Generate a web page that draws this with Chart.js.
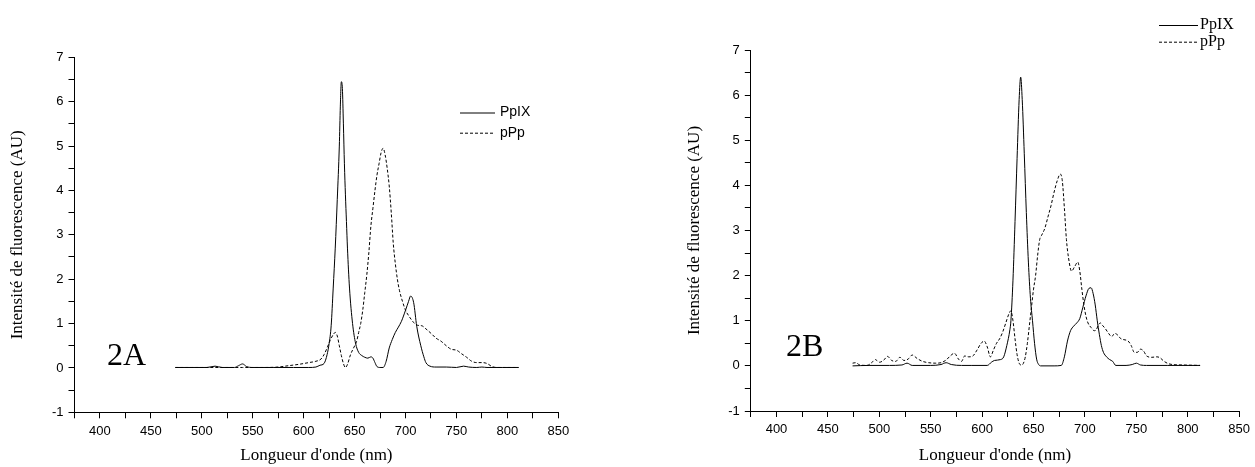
<!DOCTYPE html>
<html>
<head>
<meta charset="utf-8">
<script src="https://cdn.jsdelivr.net/npm/chart.js@4.4.1/dist/chart.umd.min.js"></script>
<style>
  body { margin: 0; background: #fff; }
  #wrap { position: relative; width: 1255px; height: 467px; }
  canvas { position: absolute; top: 0; }
</style>
</head>
<body>
<div id="wrap">
  <canvas id="chartA" width="620" height="467" style="left:0px;width:620px;height:467px"></canvas>
  <canvas id="chartB" width="635" height="467" style="left:620px;width:635px;height:467px"></canvas>
</div>
<script>
// ---- data ----
const seriesNames = ['PpIX', 'pPp'];
const panelNames = ['2A', '2B'];
const xTickValues = [400, 450, 500, 550, 600, 650, 700, 750, 800, 850];
const yTickValues = [-1, 0, 1, 2, 3, 4, 5, 6, 7];

// panel 2A, PpIX
const nmA_ppix = [474, 490, 505, 513, 520, 532, 536, 540, 544, 550, 570, 590, 605, 612, 616, 620, 623, 625, 627, 629, 631, 633, 635, 636, 637, 638, 639, 640, 641, 642, 643, 645, 648, 651, 654, 657, 660, 663, 666, 668, 670, 672, 675, 678, 681, 684, 687, 690, 693, 696, 700, 703, 705, 708, 711, 715, 718, 720, 724, 730, 740, 750, 757, 762, 770, 775, 780, 795, 811];
const valA_ppix = [0.01, 0.01, 0.01, 0.04, 0.01, 0.01, 0.05, 0.09, 0.03, 0.01, 0.01, 0.01, 0.01, 0.02, 0.06, 0.1, 0.3, 0.55, 0.95, 1.8, 2.7, 3.8, 5.0, 5.9, 6.45, 6.3, 5.5, 4.6, 3.9, 3.3, 2.7, 1.8, 1.0, 0.55, 0.35, 0.28, 0.24, 0.22, 0.25, 0.22, 0.12, 0.03, 0.01, 0.01, 0.15, 0.45, 0.64, 0.8, 0.92, 1.05, 1.3, 1.5, 1.62, 1.47, 0.94, 0.5, 0.25, 0.12, 0.04, 0.02, 0.02, 0.01, 0.04, 0.02, 0.01, 0.02, 0.01, 0.01, 0.01];

// panel 2A, pPp
const nmA_ppp = [474, 500, 540, 560, 575, 585, 595, 605, 612, 617, 620, 623, 626, 629, 631, 633, 635, 637, 639, 641, 643, 646, 649, 652, 654, 656, 658, 660, 662, 664, 666, 668, 670, 672, 674, 676, 678, 680, 682, 684, 686, 688, 690, 692, 694, 697, 700, 703, 706, 709, 712, 716, 720, 725, 730, 735, 740, 745, 750, 755, 760, 765, 770, 775, 780, 785, 790, 811];
const valA_ppp = [0.01, 0.01, 0.01, 0.01, 0.02, 0.05, 0.08, 0.12, 0.15, 0.2, 0.3, 0.45, 0.62, 0.75, 0.8, 0.72, 0.5, 0.28, 0.1, 0.01, 0.08, 0.3, 0.45, 0.6, 0.8, 1.0, 1.3, 1.7, 2.1, 2.6, 3.2, 3.6, 4.0, 4.35, 4.6, 4.85, 4.95, 4.8, 4.5, 4.1, 3.5, 2.8, 2.35, 2.0, 1.75, 1.5, 1.3, 1.18, 1.08, 1.0, 0.96, 0.95, 0.88, 0.78, 0.67, 0.6, 0.5, 0.42, 0.4, 0.32, 0.24, 0.15, 0.12, 0.12, 0.1, 0.03, 0.01, 0.01];

// panel 2B, PpIX
const nmB_ppix = [474, 490, 510, 522, 527, 532, 550, 560, 565, 570, 580, 590, 605, 609, 612, 618, 621, 624, 627, 628, 630, 632, 634, 636, 637.5, 639, 641, 643, 645, 647, 649, 651, 653, 655, 657, 670, 677, 680, 683, 686, 689, 692, 695, 698, 701, 704, 706, 708, 710, 712, 714, 716, 718, 721, 724, 727, 730, 740, 746, 750, 754, 760, 780, 812];
const valB_ppix = [0.0, 0.01, 0.01, 0.02, 0.06, 0.01, 0.01, 0.03, 0.07, 0.03, 0.01, 0.01, 0.01, 0.08, 0.12, 0.14, 0.2, 0.45, 0.8, 1.0, 1.9, 3.2, 4.6, 5.9, 6.4, 5.9, 4.7, 3.4, 2.3, 1.5, 1.0, 0.5, 0.15, 0.03, 0.0, 0.0, 0.01, 0.2, 0.55, 0.78, 0.88, 0.95, 1.05, 1.3, 1.55, 1.72, 1.73, 1.6, 1.35, 1.0, 0.7, 0.45, 0.3, 0.2, 0.14, 0.1, 0.01, 0.01, 0.03, 0.06, 0.02, 0.01, 0.01, 0.01];

// panel 2B, pPp
const nmB_ppp = [474, 477, 481, 488, 493, 496, 500, 504, 508, 512, 516, 520, 524, 528, 532, 537, 542, 548, 555, 560, 565, 569, 573, 577, 580, 583, 587, 591, 595, 599, 602, 605, 608, 611, 614, 617, 620, 623, 626, 628, 630, 632, 634, 636, 638, 640, 642, 644, 646, 648, 650, 652, 654, 656, 658, 661, 664, 667, 670, 673, 676, 678, 680, 682, 684, 687, 690, 693, 695, 697, 699, 701, 703, 706, 709, 711, 713, 715, 717, 720, 723, 726, 729, 732, 735, 738, 742, 745, 748, 751, 754, 757, 760, 765, 770, 773, 777, 781, 785, 795, 812];
const valB_ppp = [0.06, 0.07, 0.02, 0.01, 0.08, 0.14, 0.08, 0.12, 0.21, 0.12, 0.1, 0.19, 0.12, 0.15, 0.24, 0.16, 0.1, 0.07, 0.06, 0.07, 0.13, 0.22, 0.28, 0.15, 0.1, 0.22, 0.2, 0.22, 0.35, 0.5, 0.55, 0.42, 0.2, 0.35, 0.5, 0.6, 0.75, 0.95, 1.15, 1.22, 1.0, 0.6, 0.25, 0.06, 0.02, 0.05, 0.2, 0.5, 0.9, 1.3, 1.7, 2.0, 2.45, 2.8, 2.9, 3.05, 3.3, 3.55, 3.85, 4.1, 4.25, 4.1, 3.5, 2.8, 2.4, 2.1, 2.2, 2.3, 2.1, 1.7, 1.35, 1.1, 0.95, 0.85, 0.78, 0.8, 0.9, 0.95, 0.9, 0.82, 0.72, 0.65, 0.72, 0.68, 0.6, 0.58, 0.55, 0.45, 0.3, 0.3, 0.37, 0.33, 0.22, 0.19, 0.2, 0.18, 0.1, 0.05, 0.03, 0.02, 0.01];

const xTitle = "Longueur d'onde (nm)";
const yTitle = 'Intensité de fluorescence (AU)';

// build {x,y} points
function toPoints(xs, ys) {
    return xs.map((x, i) => ({ x: x, y: ys[i] }));
}

// legend drawn inside the canvas at a given spot
const inlineLegend = {
    id: 'inlineLegend',
    afterDraw(chart, args, opts) {
        const ctx = chart.ctx;
        ctx.save();
        ctx.font = opts.font;
        ctx.textBaseline = 'middle';
        ctx.fillStyle = '#000';
        chart.data.datasets.forEach((ds, i) => {
            const y = opts.y + i * opts.rowH;
            ctx.beginPath();
            ctx.setLineDash(ds.borderDash || []);
            ctx.lineWidth = 1;
            ctx.strokeStyle = ds.borderColor;
            ctx.moveTo(opts.x, y + 0.5);
            ctx.lineTo(opts.x + opts.lineLen, y + 0.5);
            ctx.stroke();
            ctx.setLineDash([]);
            ctx.fillText(ds.label, opts.x + opts.lineLen + opts.gap, y);
        });
        ctx.restore();
    }
};

// big "2A" / "2B" tag
const panelTag = {
    id: 'panelTag',
    afterDraw(chart, args, opts) {
        const ctx = chart.ctx;
        ctx.save();
        ctx.font = opts.font;
        ctx.fillStyle = '#000';
        ctx.textBaseline = 'alphabetic';
        ctx.fillText(opts.text, opts.x, opts.y);
        ctx.restore();
    }
};

function makeChart(canvasId, panel, setup) {
    const ctx = document.getElementById(canvasId).getContext('2d');
    return new Chart(ctx, {
        type: 'line',
        data: {
            datasets: [{
                label: seriesNames[0],
                data: toPoints(setup.ppixX, setup.ppixY),
                borderColor: '#000',
                borderWidth: 1,
                pointRadius: 0,
                cubicInterpolationMode: 'monotone',
                fill: false
            }, {
                label: seriesNames[1],
                data: toPoints(setup.pppX, setup.pppY),
                borderColor: '#000',
                borderWidth: 1,
                borderDash: [3, 2],
                pointRadius: 0,
                cubicInterpolationMode: 'monotone',
                fill: false
            }]
        },
        options: {
            responsive: false,
            animation: false,
            events: [],
            layout: { padding: setup.padding },
            plugins: {
                legend: { display: false },
                tooltip: { enabled: false },
                inlineLegend: setup.legend,
                panelTag: { text: panel, x: setup.tag.x, y: setup.tag.y, font: '32px "Liberation Serif"' }
            },
            scales: {
                x: {
                    type: 'linear',
                    min: 375,
                    max: 850,
                    afterFit: s => { s.height = setup.xAxisH; },
                    border: { display: true, color: '#000', width: 1 },
                    grid: { drawOnChartArea: false, drawTicks: true, tickLength: 6, tickColor: '#000' },
                    ticks: {
                        stepSize: 25,
                        autoSkip: false,
                        maxRotation: 0,
                        padding: 5,
                        color: '#000',
                        font: { family: '"Liberation Sans"', size: 13 },
                        callback: v => xTickValues.includes(v) ? String(v) : ''
                    },
                    title: {
                        display: true,
                        text: xTitle,
                        color: '#000',
                        font: { family: '"Liberation Serif"', size: 17 },
                        padding: { top: 0, bottom: 1 }
                    }
                },
                y: {
                    type: 'linear',
                    min: -1,
                    max: 7,
                    afterFit: s => { s.width = setup.yAxisW; },
                    border: { display: true, color: '#000', width: 1 },
                    grid: { drawOnChartArea: false, drawTicks: true, tickLength: 6, tickColor: '#000' },
                    ticks: {
                        stepSize: 0.5,
                        autoSkip: false,
                        padding: 5,
                        color: '#000',
                        font: { family: '"Liberation Sans"', size: 13 },
                        callback: v => yTickValues.includes(v) ? String(v) : ''
                    },
                    title: {
                        display: true,
                        text: yTitle,
                        color: '#000',
                        font: { family: '"Liberation Serif"', size: 17 },
                        padding: { top: setup.yTitlePad, bottom: 0 }
                    }
                }
            }
        },
        plugins: [inlineLegend, panelTag]
    });
}

makeChart('chartA', panelNames[0], {
    ppixX: nmA_ppix, ppixY: valA_ppix,
    pppX: nmA_ppp, pppY: valA_ppp,
    padding: { left: 0, right: 61.7, top: 57.3, bottom: 0 },
    yAxisW: 74.5,
    xAxisH: 54.7,
    yTitlePad: 7.8,
    tag: { x: 107, y: 365 },
    legend: { x: 460, y: 112.5, rowH: 20.2, lineLen: 35, gap: 5, font: '14px "Liberation Sans"' }
});

makeChart('chartB', panelNames[1], {
    ppixX: nmB_ppix, ppixY: valB_ppix,
    pppX: nmB_ppp, pppY: valB_ppp,
    padding: { left: 60, right: 12.3, top: 50, bottom: 0 },
    yAxisW: 70.8,
    xAxisH: 56,
    yTitlePad: 4.8,
    tag: { x: 166, y: 356 },
    legend: { x: 539, y: 25, rowH: 16.7, lineLen: 39, gap: 2, font: '16px "Liberation Serif"' }
});
</script>
</body>
</html>
